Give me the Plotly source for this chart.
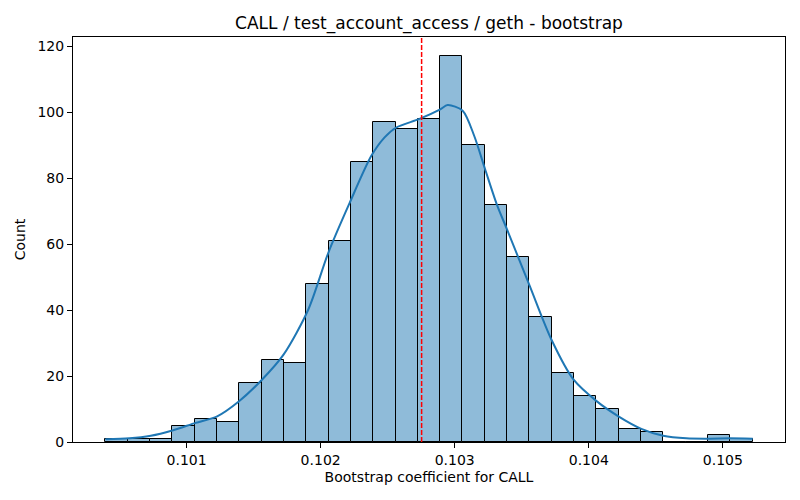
import plotly.graph_objects as go

# ---- data ----
bin_left = 0.100394
bin_width = 0.00016649
counts = [1, 1, 1, 5, 7, 6, 18, 25, 24, 48, 61, 85, 97, 95, 98, 117, 90, 72,
          56, 38, 21, 14, 10, 4, 3, 0, 0, 2, 1]

kde_x = [0.100394, 0.100573, 0.100733, 0.100894, 0.101067, 0.101228, 0.101389,
         0.101562, 0.101723, 0.101908, 0.102057, 0.102217, 0.102378,
         0.102477, 0.102564, 0.102737, 0.102892, 0.102947, 0.103059, 0.103145,
         0.103226, 0.103318, 0.103390, 0.103560, 0.103721, 0.103887, 0.104058,
         0.104221, 0.104392, 0.104555, 0.104728, 0.104889, 0.105052, 0.105223]
kde_y = [0.8, 1.1, 1.9, 3.5, 5.8, 7.8, 12.3, 18.9, 26.5, 40.2, 57.4, 72.6,
         86.8, 92.4, 95.4, 98.0, 100.9, 102.2, 100.5, 92.9, 82.8, 71.6, 64.5,
         47.3, 31.1, 18.9, 12.4, 7.8, 4.0, 1.9, 1.1, 1.0, 1.1, 1.0]

ref_value = 0.102753

x_tick_vals = [0.101, 0.102, 0.103, 0.104, 0.105]
x_tick_text = ["0.101", "0.102", "0.103", "0.104", "0.105"]
y_tick_vals = [0, 20, 40, 60, 80, 100, 120]

title_text = "CALL / test_account_access / geth - bootstrap"
x_label = "Bootstrap coefficient for CALL"
y_label = "Count"

# ---- build ----
centers = [bin_left + (i + 0.5) * bin_width for i in range(len(counts))]
x_min = bin_left
x_max = bin_left + len(counts) * bin_width
span = x_max - x_min

fig = go.Figure()
fig.add_trace(go.Bar(
    x=centers, y=counts, width=[bin_width] * len(counts),
    marker=dict(color="rgba(31,119,180,0.5)", line=dict(color="black", width=1)),
    showlegend=False, hoverinfo="skip",
))
fig.add_trace(go.Scatter(
    x=kde_x, y=kde_y, mode="lines",
    line=dict(color="#1f77b4", width=2, shape="spline", smoothing=0.8),
    showlegend=False, hoverinfo="skip",
))
fig.add_shape(type="line", xref="x", yref="paper", x0=ref_value, x1=ref_value, y0=0, y1=1,
              layer="above", line=dict(color="#ff0000", width=1.5, dash="5px,2px"))

axis_common = dict(
    showgrid=False, zeroline=False, showline=True, linecolor="black", linewidth=1,
    mirror=True, ticks="outside", ticklen=5, tickwidth=1, tickcolor="black",
    tickfont=dict(size=14, color="black"),
)

W, H = 792, 492  # page body has an 8px margin
fig.update_layout(
    width=W, height=H,
    margin=dict(l=63, r=15, t=29, b=58),
    paper_bgcolor="white", plot_bgcolor="white",
    font=dict(family="DejaVu Sans", color="black"),
    bargap=0,
    title=dict(text=title_text, x=0.5, xref="paper", xanchor="center",
               y=1 - 15 / H, yref="container", yanchor="middle",
               font=dict(size=17, color="black")),
    xaxis=dict(range=[x_min - 0.05 * span, x_max + 0.05 * span],
               tickvals=x_tick_vals, ticktext=x_tick_text,
               title=dict(text=x_label, font=dict(size=14), standoff=5),
               **axis_common),
    yaxis=dict(range=[0, max(counts) * 1.05], tickvals=y_tick_vals,
               title=dict(text=y_label, font=dict(size=14), standoff=8),
               **axis_common),
)

fig.write_html("out.html")
